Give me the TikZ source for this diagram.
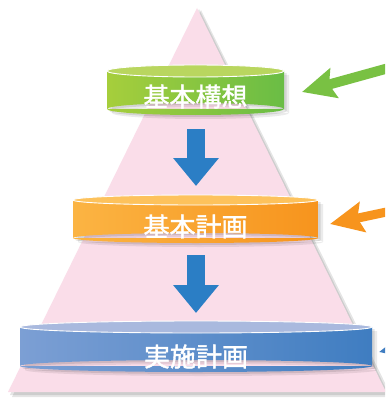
\documentclass[tikz,border=0pt]{standalone}
\usepackage{fontspec}
\newfontfamily\jp[FakeBold=1.6]{Noto Sans CJK JP}
\usetikzlibrary{arrows.meta}
\definecolor{pinktri}{HTML}{FADDE9}
\definecolor{gL}{HTML}{A6CE3C}
\definecolor{gR}{HTML}{6ABD45}
\definecolor{gT}{HTML}{B9D65F}
\definecolor{oL}{HTML}{FBB443}
\definecolor{oR}{HTML}{F7941D}
\definecolor{oT}{HTML}{FDC25C}
\definecolor{bL}{HTML}{7C9FD4}
\definecolor{bR}{HTML}{3F7DC1}
\definecolor{bT}{HTML}{A9B9DE}
\definecolor{downblue}{HTML}{2B7EC5}
\definecolor{sideblue}{HTML}{3F7DC1}
\newcommand{\cylbody}[8]{%
  \fill[black,opacity=.08] ({#1-#4+5},{#2+4}) rectangle ({#1+#4+5},{#3+4}) ({#1+5},{#3+4}) ellipse[x radius=#4,y radius=#5];
  \fill[black,opacity=.10] ({#1-#4+2.5},{#2+2}) rectangle ({#1+#4+2.5},{#3+2}) ({#1+2.5},{#3+2}) ellipse[x radius=#4,y radius=#5];
  \path[left color=#6,right color=#7] ({#1-#4},#2) rectangle ({#1+#4},#3) (#1,#3) ellipse[x radius=#4,y radius=#5];
  \draw[white,line width=0.9pt,fill=#8] (#1,#2) ellipse[x radius=#4,y radius=#5];
}
\tikzset{
  lbl/.style={font=\jp\fontsize{26}{26}\selectfont, text=white, inner sep=0pt},
  downarrow/.style={downblue, line width=18pt, -{Triangle[length=28pt,width=44pt]}},
  sidearrow/.style={line width=#1, -{Stealth[length=33pt,width=30pt,inset=5pt]}},
}
\begin{document}
\begin{tikzpicture}[x=1pt,y=-1pt]
\clip (0,0) rectangle (385,401);
\fill[white] (0,0) rectangle (385,401);
% triangle shadow
\fill[black,opacity=.10] (201,10) -- (392,397) -- (12,397) -- cycle;
\fill[black,opacity=.10] (199,9) -- (389,395) -- (10,395) -- cycle;
\fill[pinktri] (197,8) -- (386,392) -- (8,392) -- cycle;
% cylinders
\cylbody{195.5}{71}{109}{88.5}{6}{gL}{gR}{gT}
\cylbody{195.5}{200}{238}{122.5}{5}{oL}{oR}{oT}
\cylbody{196}{327}{366}{176}{6}{bL}{bR}{bT}
\node[lbl] (c1) at (195.5,96.5) {基本構想};
\node[lbl] (c2) at (195.5,226.5) {基本計画};
\node[lbl] (c3) at (196,356.5) {実施計画};
% down arrows
\coordinate (d1s) at (196,129);
\coordinate (d1e) at (196,186);
\coordinate (d2s) at (196,255);
\coordinate (d2e) at (196,313);
\draw[downarrow] (d1s) -- (d1e);
\draw[downarrow] (d2s) -- (d2e);
% side arrows
\coordinate (g1) at (425,58);
\coordinate (g2) at (302,92);
\coordinate (o1) at (410,207);
\coordinate (o2) at (330,224);
\coordinate (b1) at (440,338);
\coordinate (b2) at (379,352);
\draw[gR!75!gL, sidearrow=10pt] (g1) -- (g2);
\draw[oR, sidearrow=9pt] (o1) -- (o2);
\draw[sideblue, sidearrow=9pt] (b1) -- (b2);
\end{tikzpicture}
\end{document}
